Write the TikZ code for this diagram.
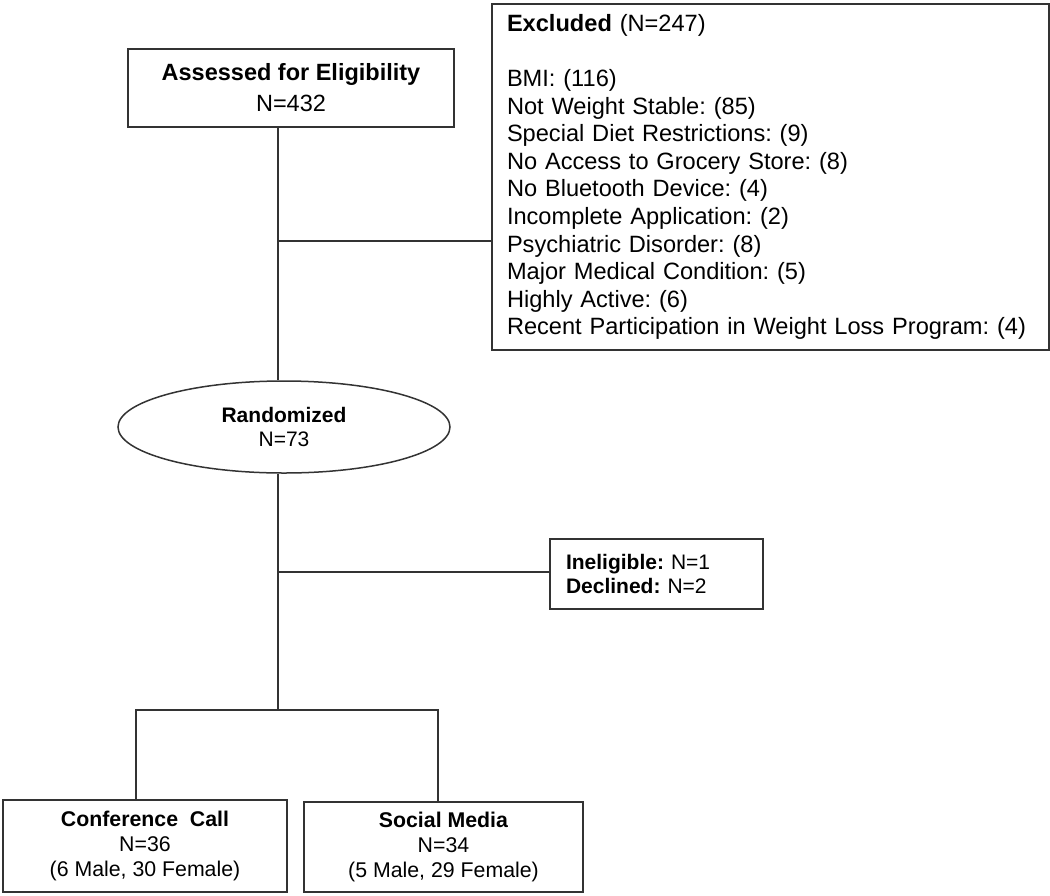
\documentclass[tikz,border=0pt]{standalone}
\usepackage{fontspec}
\setmainfont{Liberation Sans}
\usepackage{tikz}
\usetikzlibrary{shapes.geometric}
\frenchspacing

\begin{document}
\begin{tikzpicture}[x=1pt,y=-1pt,
		box/.style={draw=black!80, line width=1.5pt, rectangle, inner sep=0pt, align=center},
		flow/.style={draw=black!80, line width=1.5pt}]
	\useasboundingbox (0,0) rectangle (1050,895);
	% main column
	\node[box, minimum width=326pt, minimum height=78pt, font=\fontsize{23.5}{31}\selectfont] (assess) at (291,88)
		{\textbf{Assessed for Eligibility}\\N=432};
	\node[box, ellipse, minimum width=332pt, minimum height=92pt, font=\fontsize{21}{24.5}\selectfont] (rand) at (284,427)
		{\textbf{Randomized}\\N=73};
	% side boxes
	\node[box, align=left, text width=527pt, inner xsep=15pt, minimum height=346pt, font=\fontsize{23.6}{27.6}\selectfont] (excl) at (770.5,177)
		{\textbf{Excluded} (N=247)\\[27.6pt]
		BMI: (116)\\
		Not Weight Stable: (85)\\
		Special Diet Restrictions: (9)\\
		No Access to Grocery Store: (8)\\
		No Bluetooth Device: (4)\\
		Incomplete Application: (2)\\
		Psychiatric Disorder: (8)\\
		Major Medical Condition: (5)\\
		Highly Active: (6)\\
		Recent Participation in Weight Loss Program: (4)};
	\node[box, align=left, text width=181pt, inner xsep=16pt, minimum height=70pt, font=\fontsize{21}{24}\selectfont] (inel) at (656.5,574)
		{\textbf{Ineligible:} N=1\\\textbf{Declined:} N=2};
	% arms
	\node[box, minimum width=284pt, minimum height=92pt, font=\fontsize{21.3}{25}\selectfont] (conf) at (145,846)
		{\textbf{Conference~~Call}\\N=36\\(6 Male, 30 Female)};
	\node[box, minimum width=279pt, minimum height=90pt, font=\fontsize{21.3}{25}\selectfont] (social) at (443.5,847)
		{\textbf{Social Media}\\N=34\\(5 Male, 29 Female)};
	% branch points
	\coordinate (b1) at (278,241);
	\coordinate (b2) at (278,572);
	\coordinate (split) at (278,710);
	\coordinate (dl) at (136,710);
	\coordinate (dr) at (438,710);
	% connectors
	\draw[flow] (assess.south -| b1) -- (rand.north -| b1);
	\draw[flow] (b1) -- (b1 -| excl.west);
	\draw[flow] (rand.south -| b1) -- (split);
	\draw[flow] (b2) -- (b2 -| inel.west);
	\draw[flow] (conf.north -| dl) |- (dr) -- (dr |- social.north);
\end{tikzpicture}
\end{document}
